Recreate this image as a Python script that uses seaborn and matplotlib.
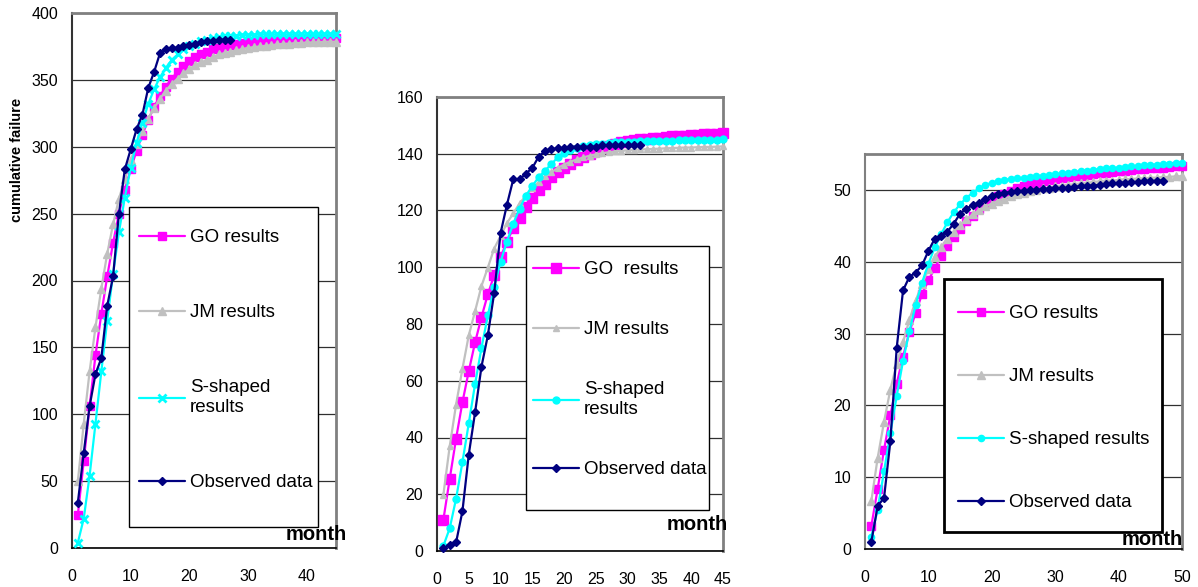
import matplotlib
matplotlib.use("Agg")
import matplotlib.pyplot as plt
from matplotlib.patches import Rectangle
import seaborn as sns

# ── Data ──────────────────────────────────────────────────────────────────────
SERIES = ["GO results", "JM results", "S-shaped results", "Observed data"]

# panel 1
p1_months = list(range(1, 46))
p1_obs_months = list(range(1, 28))
p1_go = [25, 65, 106, 144, 175, 203, 228, 250, 268, 283, 297, 309, 320, 330, 338,
         345, 351, 356, 360, 364, 367, 369, 371, 373, 374, 375, 376, 377, 377.5, 378,
         378.5, 379, 379, 379.5, 379.5, 380, 380, 380, 380.5, 380.5, 380.5, 381, 381, 381, 381]
p1_jm = [50, 93, 132, 165, 194, 220, 242, 261, 276, 290, 302, 312, 321, 329, 336,
         342, 347, 351, 355, 358, 361, 363, 365, 367, 369, 370, 371, 372, 373, 374,
         374.5, 375, 375.5, 376, 376.5, 377, 377, 377.5, 377.5, 378, 378, 378, 378.5, 378.5, 378.5]
p1_s = [4, 22, 54, 93, 132, 170, 205, 236, 262, 284, 303, 318, 332, 343, 352,
        359, 365, 369, 373, 375, 377, 379, 380, 381, 382, 382.5, 383, 383, 383.5, 383.5,
        383.5, 384, 384, 384, 384, 384, 384, 384, 384, 384, 384, 384, 384, 384, 384]
p1_obs = [34, 71, 106, 130, 142, 181, 203, 250, 283, 298, 313, 324, 344, 356, 370,
          373, 374, 374, 375, 376, 377, 378, 379, 379, 380, 380, 380]

# panel 2
p2_months = list(range(1, 46))
p2_obs_months = list(range(1, 33))
p2_go = [11, 25.4, 39.6, 52.4, 63.4, 73.6, 82.4, 90.5, 97.2, 103.6, 109, 113.7, 117.5,
         121.3, 124.4, 127.2, 129.5, 131.7, 133.5, 135, 136.5, 137.8, 139, 140, 141, 142,
         142.8, 143.5, 144, 144.5, 144.8, 145.1, 145.3, 145.5, 145.7, 145.9, 146.1, 146.3,
         146.4, 146.6, 146.7, 146.8, 146.9, 147, 147.2]
p2_jm = [19.8, 36.9, 51.6, 64.2, 76, 84.6, 93.4, 99.9, 106.6, 111, 115.5, 119, 122.5,
         125.3, 127.8, 130, 132, 133.5, 135, 136.2, 137.2, 138, 138.7, 139.3, 139.8, 140.2,
         140.5, 140.8, 141, 141.2, 141.4, 141.5, 141.6, 141.7, 141.8, 141.9, 142, 142.1,
         142.2, 142.2, 142.3, 142.4, 142.4, 142.5, 142.6]
p2_s = [1.8, 8, 18.4, 31.3, 45, 59, 71.6, 83, 93.2, 101.9, 109, 115.4, 120.7, 125.2,
        128.7, 131.7, 134, 136.4, 138.7, 140.3, 141.3, 142, 142.6, 143, 143.4, 143.6, 143.8,
        144, 144.1, 144.2, 144.3, 144.4, 144.4, 144.5, 144.5, 144.6, 144.6, 144.7, 144.7,
        144.8, 144.8, 144.9, 144.9, 145, 145.1]
p2_obs = [1, 2, 3, 14, 34, 49, 65, 76, 91, 112, 122, 131, 131, 133, 135, 139, 141,
          141.5, 142, 142, 142.5, 142.5, 142.5, 142.5, 142.5, 143, 143, 143, 143, 143, 143, 143]

# panel 3
p3_months = list(range(1, 51))
p3_obs_months = list(range(1, 48))
p3_go = [3.2, 8.4, 13.8, 18.6, 23, 26.8, 30.2, 32.9, 35.5, 37.4, 39.1, 40.8, 42.2, 43.5,
         44.5, 45.7, 46.4, 47.3, 48, 48.6, 49.1, 49.5, 49.9, 50.2, 50.5, 50.8, 51, 51.2,
         51.4, 51.5, 51.7, 51.8, 51.9, 52, 52.1, 52.2, 52.3, 52.4, 52.5, 52.6, 52.7, 52.8,
         52.9, 52.9, 53, 53.1, 53.1, 53.2, 53.3, 53.3]
p3_jm = [6.7, 12.7, 17.7, 22.2, 25.8, 28.8, 31.9, 34.6, 36.9, 39, 40.6, 42, 43.2, 44.2,
         45.1, 45.9, 46.6, 47.2, 47.7, 48.1, 48.5, 48.8, 49.1, 49.4, 49.6, 49.8, 50, 50.2,
         50.3, 50.5, 50.6, 50.7, 50.8, 50.9, 51, 51.1, 51.2, 51.3, 51.3, 51.4, 51.5, 51.5,
         51.6, 51.6, 51.7, 51.7, 51.8, 51.8, 51.9, 51.9]
p3_s = [1.7, 5.5, 10.8, 16.1, 21.3, 26.2, 30.3, 34, 37.1, 39.7, 42, 43.8, 45.5, 46.9,
        48, 48.9, 49.6, 50.2, 50.7, 51, 51.2, 51.4, 51.5, 51.6, 51.7, 51.8, 51.9, 52,
        52.1, 52.2, 52.3, 52.4, 52.5, 52.6, 52.7, 52.8, 52.9, 53, 53, 53.1, 53.2, 53.3,
        53.3, 53.4, 53.5, 53.5, 53.6, 53.6, 53.7, 53.7]
p3_obs = [1, 6, 7.1, 15, 28, 36, 37.9, 38.5, 39.5, 41.5, 43.2, 43.6, 44.2, 45.3, 46.7,
          47.4, 47.9, 48.2, 48.7, 49.2, 49.4, 49.6, 49.7, 49.8, 49.9, 50, 50, 50.1, 50.1,
          50.2, 50.2, 50.3, 50.4, 50.5, 50.6, 50.6, 50.7, 50.8, 50.9, 51, 51, 51.1, 51.1,
          51.2, 51.2, 51.3, 51.3]

p1_labels = ["GO results", "JM results", "S-shaped\nresults", "Observed data"]
p2_labels = ["GO  results", "JM results", "S-shaped\nresults", "Observed data"]
p3_labels = ["GO results", "JM results", "S-shaped results", "Observed data"]

COLORS = {"GO results": "#FF00FF", "JM results": "#C0C0C0",
          "S-shaped results": "#00FFFF", "Observed data": "#000080"}

# ── Style ─────────────────────────────────────────────────────────────────────
sns.set_style("white")
plt.rcParams["font.family"] = ["Liberation Sans", "DejaVu Sans"]
plt.rcParams["text.color"] = "black"
plt.rcParams["xtick.color"] = "black"
plt.rcParams["ytick.color"] = "black"

W, H = 1198, 587
fig = plt.figure(figsize=(W / 100, H / 100), dpi=100)


def fig_box(left, top, right, bottom):
    """pixel box -> figure fraction [l, b, w, h]"""
    return [left / W, 1 - bottom / H, (right - left) / W, (bottom - top) / H]


panels = [
    dict(box=(72, 13, 336, 548), xlim=45, ylim=400, xstep=10, ystep=50,
         xmax_tick=40, ymax_tick=400,
         data=[(p1_months, p1_go), (p1_months, p1_jm), (p1_months, p1_s), (p1_obs_months, p1_obs)],
         markers=[("s", 6, 1), ("^", 6, 1), ("x", 5.5, 2), ("D", 4, 1)],
         labels=p1_labels, leg_box=(129, 207, 318, 527), leg_lw=1.0,
         leg_anchor=(139, 229), spacing=3.1, left_col="#333333",
         month_off=(8, 5.8)),
    dict(box=(437, 97, 723, 551), xlim=45, ylim=160, xstep=5, ystep=20,
         xmax_tick=45, ymax_tick=160,
         data=[(p2_months, p2_go), (p2_months, p2_jm), (p2_months, p2_s), (p2_obs_months, p2_obs)],
         markers=[("s", 6.5, 1), ("^", 5, 1), ("o", 5, 1), ("D", 4, 1)],
         labels=p2_labels, leg_box=(526, 246, 709, 510), leg_lw=1.0,
         leg_anchor=(533, 261), spacing=2.3, left_col="#333333",
         month_off=(3.6, 15)),
    dict(box=(865, 154, 1182, 549), xlim=50, ylim=55, xstep=10, ystep=10,
         xmax_tick=50, ymax_tick=50,
         data=[(p3_months, p3_go), (p3_months, p3_jm), (p3_months, p3_s), (p3_obs_months, p3_obs)],
         markers=[("s", 6, 1), ("^", 5.5, 1), ("o", 4.5, 1), ("D", 4, 1)],
         labels=p3_labels, leg_box=(944, 279, 1162, 532), leg_lw=2.0,
         leg_anchor=(958, 305), spacing=2.45, left_col="#808080",
         month_off=(0.7, 2.9)),
]

for p in panels:
    ax = fig.add_axes(fig_box(*p["box"]))
    for name, (xs, ys), (mk, ms, mew) in zip(SERIES, p["data"], p["markers"]):
        sns.lineplot(x=xs, y=ys, ax=ax, color=COLORS[name], lw=1.6,
                     marker=mk, markersize=ms, mew=mew, mec=COLORS[name],
                     clip_on=False, zorder=3)

    ax.set_xlim(0, p["xlim"])
    ax.set_ylim(0, p["ylim"])
    ax.set_xticks(range(0, p["xmax_tick"] + 1, p["xstep"]))
    ax.set_yticks(range(0, p["ymax_tick"] + 1, p["ystep"]))
    ax.set_xlabel("")
    ax.set_ylabel("")
    ax.yaxis.grid(True, color="#303030", lw=0.9)
    ax.set_axisbelow(True)
    ax.tick_params(axis="y", direction="inout", length=6, width=1, pad=7,
                   labelsize=11.5, colors="black")
    ax.tick_params(axis="x", direction="inout", length=6, width=1, pad=12,
                   labelsize=11.5, colors="black")
    for side in ["top", "right"]:
        ax.spines[side].set_color("#808080")
        ax.spines[side].set_linewidth(2)
    ax.spines["left"].set_color(p["left_col"])
    ax.spines["left"].set_linewidth(1.5)
    ax.spines["bottom"].set_color("black")
    ax.spines["bottom"].set_linewidth(1.2)

    # legend box + entries
    l, t, r, b = p["leg_box"]
    fig.patches.append(Rectangle((l / W, 1 - b / H), (r - l) / W, (b - t) / H,
                                 transform=fig.transFigure, facecolor="white",
                                 edgecolor="black", lw=p["leg_lw"], zorder=5))
    ax_x, ax_y = p["leg_anchor"]
    leg = fig.legend(handles=ax.lines[:4], labels=p["labels"], loc="upper left",
                     bbox_to_anchor=(ax_x / W, 1 - ax_y / H), frameon=False,
                     fontsize=13.5, handlelength=2.45, handletextpad=0.27,
                     labelspacing=p["spacing"], borderpad=0, borderaxespad=0,
                     labelcolor="black")
    leg.set_zorder(6)

    ax.annotate("month", xy=(1, 0), xycoords="axes fraction",
                xytext=p["month_off"], textcoords="offset points",
                ha="right", va="baseline", fontsize=14.5, fontweight="bold",
                zorder=7)

fig.text(17 / W, 1 - 160 / H, "cumulative failure", rotation=90,
         ha="center", va="center", fontsize=10.5, fontweight="bold")

fig.savefig("out.png", dpi=100)
plt.close(fig)
